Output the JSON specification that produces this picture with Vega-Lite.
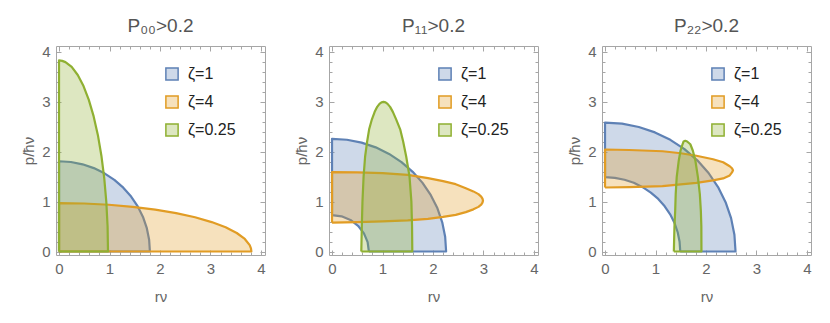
{
  "$schema": "https://vega.github.io/schema/vega-lite/v6.json",
  "padding": {"left": 21, "top": 16, "right": 5, "bottom": 5},
  "datasets": {
    "p1": [
      {"zeta": "ζ=1", "i": 0, "x": 0, "y": 0},
      {"zeta": "ζ=1", "i": 1, "x": 1.8, "y": 0},
      {"zeta": "ζ=1", "i": 2, "x": 1.785, "y": 0.236},
      {"zeta": "ζ=1", "i": 3, "x": 1.739, "y": 0.468},
      {"zeta": "ζ=1", "i": 4, "x": 1.663, "y": 0.693},
      {"zeta": "ζ=1", "i": 5, "x": 1.559, "y": 0.905},
      {"zeta": "ζ=1", "i": 6, "x": 1.428, "y": 1.102},
      {"zeta": "ζ=1", "i": 7, "x": 1.273, "y": 1.28},
      {"zeta": "ζ=1", "i": 8, "x": 1.096, "y": 1.436},
      {"zeta": "ζ=1", "i": 9, "x": 0.9, "y": 1.568},
      {"zeta": "ζ=1", "i": 10, "x": 0.689, "y": 1.672},
      {"zeta": "ζ=1", "i": 11, "x": 0.466, "y": 1.748},
      {"zeta": "ζ=1", "i": 12, "x": 0.235, "y": 1.795},
      {"zeta": "ζ=1", "i": 13, "x": 0, "y": 1.81},
      {"zeta": "ζ=1", "i": 14, "x": 0, "y": 0},
      {"zeta": "ζ=4", "i": 0, "x": 0, "y": 0},
      {"zeta": "ζ=4", "i": 1, "x": 3.81, "y": 0},
      {"zeta": "ζ=4", "i": 2, "x": 3.802, "y": 0.063},
      {"zeta": "ζ=4", "i": 3, "x": 3.777, "y": 0.127},
      {"zeta": "ζ=4", "i": 4, "x": 3.68, "y": 0.251},
      {"zeta": "ζ=4", "i": 5, "x": 3.52, "y": 0.371},
      {"zeta": "ζ=4", "i": 6, "x": 3.3, "y": 0.485},
      {"zeta": "ζ=4", "i": 7, "x": 3.023, "y": 0.59},
      {"zeta": "ζ=4", "i": 8, "x": 2.694, "y": 0.686},
      {"zeta": "ζ=4", "i": 9, "x": 2.319, "y": 0.77},
      {"zeta": "ζ=4", "i": 10, "x": 1.905, "y": 0.84},
      {"zeta": "ζ=4", "i": 11, "x": 1.458, "y": 0.896},
      {"zeta": "ζ=4", "i": 12, "x": 0.986, "y": 0.937},
      {"zeta": "ζ=4", "i": 13, "x": 0.497, "y": 0.962},
      {"zeta": "ζ=4", "i": 14, "x": 0, "y": 0.97},
      {"zeta": "ζ=4", "i": 15, "x": 0, "y": 0},
      {"zeta": "ζ=0.25", "i": 0, "x": 0, "y": 0},
      {"zeta": "ζ=0.25", "i": 1, "x": 0.97, "y": 0},
      {"zeta": "ζ=0.25", "i": 2, "x": 0.962, "y": 0.5},
      {"zeta": "ζ=0.25", "i": 3, "x": 0.937, "y": 0.991},
      {"zeta": "ζ=0.25", "i": 4, "x": 0.896, "y": 1.466},
      {"zeta": "ζ=0.25", "i": 5, "x": 0.84, "y": 1.915},
      {"zeta": "ζ=0.25", "i": 6, "x": 0.77, "y": 2.332},
      {"zeta": "ζ=0.25", "i": 7, "x": 0.686, "y": 2.708},
      {"zeta": "ζ=0.25", "i": 8, "x": 0.59, "y": 3.039},
      {"zeta": "ζ=0.25", "i": 9, "x": 0.485, "y": 3.317},
      {"zeta": "ζ=0.25", "i": 10, "x": 0.371, "y": 3.538},
      {"zeta": "ζ=0.25", "i": 11, "x": 0.251, "y": 3.7},
      {"zeta": "ζ=0.25", "i": 12, "x": 0.127, "y": 3.797},
      {"zeta": "ζ=0.25", "i": 13, "x": 0.063, "y": 3.822},
      {"zeta": "ζ=0.25", "i": 14, "x": 0, "y": 3.83},
      {"zeta": "ζ=0.25", "i": 15, "x": 0, "y": 0}
    ],
    "p2": [
      {"zeta": "ζ=1", "i": 0, "x": 0.73, "y": 0},
      {"zeta": "ζ=1", "i": 1, "x": 2.26, "y": 0},
      {"zeta": "ζ=1", "i": 2, "x": 2.241, "y": 0.295},
      {"zeta": "ζ=1", "i": 3, "x": 2.183, "y": 0.585},
      {"zeta": "ζ=1", "i": 4, "x": 2.088, "y": 0.865},
      {"zeta": "ζ=1", "i": 5, "x": 1.957, "y": 1.13},
      {"zeta": "ζ=1", "i": 6, "x": 1.793, "y": 1.376},
      {"zeta": "ζ=1", "i": 7, "x": 1.598, "y": 1.598},
      {"zeta": "ζ=1", "i": 8, "x": 1.376, "y": 1.793},
      {"zeta": "ζ=1", "i": 9, "x": 1.13, "y": 1.957},
      {"zeta": "ζ=1", "i": 10, "x": 0.865, "y": 2.088},
      {"zeta": "ζ=1", "i": 11, "x": 0.585, "y": 2.183},
      {"zeta": "ζ=1", "i": 12, "x": 0.295, "y": 2.241},
      {"zeta": "ζ=1", "i": 13, "x": 0, "y": 2.26},
      {"zeta": "ζ=1", "i": 14, "x": 0, "y": 0.73},
      {"zeta": "ζ=1", "i": 15, "x": 0.189, "y": 0.705},
      {"zeta": "ζ=1", "i": 16, "x": 0.365, "y": 0.632},
      {"zeta": "ζ=1", "i": 17, "x": 0.516, "y": 0.516},
      {"zeta": "ζ=1", "i": 18, "x": 0.632, "y": 0.365},
      {"zeta": "ζ=1", "i": 19, "x": 0.705, "y": 0.189},
      {"zeta": "ζ=1", "i": 20, "x": 0.73, "y": 0},
      {"zeta": "ζ=4", "i": 0, "x": 0, "y": 0.58},
      {"zeta": "ζ=4", "i": 1, "x": 0, "y": 1.59},
      {"zeta": "ζ=4", "i": 2, "x": 0.5, "y": 1.585},
      {"zeta": "ζ=4", "i": 3, "x": 1.0, "y": 1.572},
      {"zeta": "ζ=4", "i": 4, "x": 1.5, "y": 1.535},
      {"zeta": "ζ=4", "i": 5, "x": 1.9, "y": 1.47},
      {"zeta": "ζ=4", "i": 6, "x": 2.2, "y": 1.41},
      {"zeta": "ζ=4", "i": 7, "x": 2.45, "y": 1.35},
      {"zeta": "ζ=4", "i": 8, "x": 2.65, "y": 1.27},
      {"zeta": "ζ=4", "i": 9, "x": 2.8, "y": 1.205},
      {"zeta": "ζ=4", "i": 10, "x": 2.9, "y": 1.15},
      {"zeta": "ζ=4", "i": 11, "x": 2.955, "y": 1.1},
      {"zeta": "ζ=4", "i": 12, "x": 2.98, "y": 1.06},
      {"zeta": "ζ=4", "i": 13, "x": 2.99, "y": 1.02},
      {"zeta": "ζ=4", "i": 14, "x": 2.98, "y": 0.98},
      {"zeta": "ζ=4", "i": 15, "x": 2.955, "y": 0.94},
      {"zeta": "ζ=4", "i": 16, "x": 2.9, "y": 0.895},
      {"zeta": "ζ=4", "i": 17, "x": 2.8, "y": 0.845},
      {"zeta": "ζ=4", "i": 18, "x": 2.65, "y": 0.79},
      {"zeta": "ζ=4", "i": 19, "x": 2.45, "y": 0.735},
      {"zeta": "ζ=4", "i": 20, "x": 2.2, "y": 0.695},
      {"zeta": "ζ=4", "i": 21, "x": 1.9, "y": 0.655},
      {"zeta": "ζ=4", "i": 22, "x": 1.5, "y": 0.625},
      {"zeta": "ζ=4", "i": 23, "x": 1.0, "y": 0.603},
      {"zeta": "ζ=4", "i": 24, "x": 0.5, "y": 0.59},
      {"zeta": "ζ=4", "i": 25, "x": 0, "y": 0.58},
      {"zeta": "ζ=0.25", "i": 0, "x": 0.58, "y": 0},
      {"zeta": "ζ=0.25", "i": 1, "x": 1.59, "y": 0},
      {"zeta": "ζ=0.25", "i": 2, "x": 1.585, "y": 0.5},
      {"zeta": "ζ=0.25", "i": 3, "x": 1.572, "y": 1.0},
      {"zeta": "ζ=0.25", "i": 4, "x": 1.535, "y": 1.5},
      {"zeta": "ζ=0.25", "i": 5, "x": 1.47, "y": 1.9},
      {"zeta": "ζ=0.25", "i": 6, "x": 1.41, "y": 2.2},
      {"zeta": "ζ=0.25", "i": 7, "x": 1.35, "y": 2.45},
      {"zeta": "ζ=0.25", "i": 8, "x": 1.27, "y": 2.65},
      {"zeta": "ζ=0.25", "i": 9, "x": 1.205, "y": 2.8},
      {"zeta": "ζ=0.25", "i": 10, "x": 1.15, "y": 2.9},
      {"zeta": "ζ=0.25", "i": 11, "x": 1.1, "y": 2.96},
      {"zeta": "ζ=0.25", "i": 12, "x": 1.06, "y": 2.99},
      {"zeta": "ζ=0.25", "i": 13, "x": 1.02, "y": 3.0},
      {"zeta": "ζ=0.25", "i": 14, "x": 0.98, "y": 2.99},
      {"zeta": "ζ=0.25", "i": 15, "x": 0.94, "y": 2.96},
      {"zeta": "ζ=0.25", "i": 16, "x": 0.895, "y": 2.9},
      {"zeta": "ζ=0.25", "i": 17, "x": 0.845, "y": 2.8},
      {"zeta": "ζ=0.25", "i": 18, "x": 0.79, "y": 2.65},
      {"zeta": "ζ=0.25", "i": 19, "x": 0.735, "y": 2.45},
      {"zeta": "ζ=0.25", "i": 20, "x": 0.695, "y": 2.2},
      {"zeta": "ζ=0.25", "i": 21, "x": 0.655, "y": 1.9},
      {"zeta": "ζ=0.25", "i": 22, "x": 0.625, "y": 1.5},
      {"zeta": "ζ=0.25", "i": 23, "x": 0.603, "y": 1.0},
      {"zeta": "ζ=0.25", "i": 24, "x": 0.59, "y": 0.5},
      {"zeta": "ζ=0.25", "i": 25, "x": 0.58, "y": 0}
    ],
    "p3": [
      {"zeta": "ζ=1", "i": 0, "x": 1.49, "y": 0},
      {"zeta": "ζ=1", "i": 1, "x": 2.585, "y": 0},
      {"zeta": "ζ=1", "i": 2, "x": 2.563, "y": 0.337},
      {"zeta": "ζ=1", "i": 3, "x": 2.497, "y": 0.669},
      {"zeta": "ζ=1", "i": 4, "x": 2.388, "y": 0.989},
      {"zeta": "ζ=1", "i": 5, "x": 2.239, "y": 1.293},
      {"zeta": "ζ=1", "i": 6, "x": 2.051, "y": 1.574},
      {"zeta": "ζ=1", "i": 7, "x": 1.828, "y": 1.828},
      {"zeta": "ζ=1", "i": 8, "x": 1.574, "y": 2.051},
      {"zeta": "ζ=1", "i": 9, "x": 1.293, "y": 2.239},
      {"zeta": "ζ=1", "i": 10, "x": 0.989, "y": 2.388},
      {"zeta": "ζ=1", "i": 11, "x": 0.669, "y": 2.497},
      {"zeta": "ζ=1", "i": 12, "x": 0.337, "y": 2.563},
      {"zeta": "ζ=1", "i": 13, "x": 0, "y": 2.585},
      {"zeta": "ζ=1", "i": 14, "x": 0, "y": 1.49},
      {"zeta": "ζ=1", "i": 15, "x": 0.194, "y": 1.477},
      {"zeta": "ζ=1", "i": 16, "x": 0.386, "y": 1.439},
      {"zeta": "ζ=1", "i": 17, "x": 0.57, "y": 1.377},
      {"zeta": "ζ=1", "i": 18, "x": 0.745, "y": 1.29},
      {"zeta": "ζ=1", "i": 19, "x": 0.907, "y": 1.182},
      {"zeta": "ζ=1", "i": 20, "x": 1.054, "y": 1.054},
      {"zeta": "ζ=1", "i": 21, "x": 1.182, "y": 0.907},
      {"zeta": "ζ=1", "i": 22, "x": 1.29, "y": 0.745},
      {"zeta": "ζ=1", "i": 23, "x": 1.377, "y": 0.57},
      {"zeta": "ζ=1", "i": 24, "x": 1.439, "y": 0.386},
      {"zeta": "ζ=1", "i": 25, "x": 1.477, "y": 0.194},
      {"zeta": "ζ=1", "i": 26, "x": 1.49, "y": 0},
      {"zeta": "ζ=4", "i": 0, "x": 0, "y": 1.283},
      {"zeta": "ζ=4", "i": 1, "x": 0, "y": 2.045},
      {"zeta": "ζ=4", "i": 2, "x": 0.48, "y": 2.035},
      {"zeta": "ζ=4", "i": 3, "x": 1.14, "y": 2.01},
      {"zeta": "ζ=4", "i": 4, "x": 1.5, "y": 1.97},
      {"zeta": "ζ=4", "i": 5, "x": 1.81, "y": 1.92},
      {"zeta": "ζ=4", "i": 6, "x": 2.14, "y": 1.85},
      {"zeta": "ζ=4", "i": 7, "x": 2.34, "y": 1.79},
      {"zeta": "ζ=4", "i": 8, "x": 2.47, "y": 1.71},
      {"zeta": "ζ=4", "i": 9, "x": 2.515, "y": 1.67},
      {"zeta": "ζ=4", "i": 10, "x": 2.535, "y": 1.63},
      {"zeta": "ζ=4", "i": 11, "x": 2.515, "y": 1.585},
      {"zeta": "ζ=4", "i": 12, "x": 2.47, "y": 1.525},
      {"zeta": "ζ=4", "i": 13, "x": 2.34, "y": 1.465},
      {"zeta": "ζ=4", "i": 14, "x": 2.14, "y": 1.425},
      {"zeta": "ζ=4", "i": 15, "x": 1.81, "y": 1.375},
      {"zeta": "ζ=4", "i": 16, "x": 1.5, "y": 1.345},
      {"zeta": "ζ=4", "i": 17, "x": 1.14, "y": 1.31},
      {"zeta": "ζ=4", "i": 18, "x": 0.48, "y": 1.29},
      {"zeta": "ζ=4", "i": 19, "x": 0, "y": 1.283},
      {"zeta": "ζ=0.25", "i": 0, "x": 1.363, "y": 0},
      {"zeta": "ζ=0.25", "i": 1, "x": 1.91, "y": 0},
      {"zeta": "ζ=0.25", "i": 2, "x": 1.908, "y": 0.5},
      {"zeta": "ζ=0.25", "i": 3, "x": 1.898, "y": 0.82},
      {"zeta": "ζ=0.25", "i": 4, "x": 1.878, "y": 1.15},
      {"zeta": "ζ=0.25", "i": 5, "x": 1.84, "y": 1.49},
      {"zeta": "ζ=0.25", "i": 6, "x": 1.79, "y": 1.82},
      {"zeta": "ζ=0.25", "i": 7, "x": 1.74, "y": 2.02},
      {"zeta": "ζ=0.25", "i": 8, "x": 1.69, "y": 2.15},
      {"zeta": "ζ=0.25", "i": 9, "x": 1.627, "y": 2.205},
      {"zeta": "ζ=0.25", "i": 10, "x": 1.59, "y": 2.22},
      {"zeta": "ζ=0.25", "i": 11, "x": 1.555, "y": 2.205},
      {"zeta": "ζ=0.25", "i": 12, "x": 1.535, "y": 2.15},
      {"zeta": "ζ=0.25", "i": 13, "x": 1.495, "y": 2.02},
      {"zeta": "ζ=0.25", "i": 14, "x": 1.46, "y": 1.82},
      {"zeta": "ζ=0.25", "i": 15, "x": 1.42, "y": 1.49},
      {"zeta": "ζ=0.25", "i": 16, "x": 1.4, "y": 1.15},
      {"zeta": "ζ=0.25", "i": 17, "x": 1.39, "y": 0.82},
      {"zeta": "ζ=0.25", "i": 18, "x": 1.375, "y": 0.49},
      {"zeta": "ζ=0.25", "i": 19, "x": 1.363, "y": 0}
    ]
  },
  "config": {
    "view": {"stroke": null},
    "font": "Liberation Sans",
    "concat": {"spacing": 64},
    "title": {"fontSize": 19, "fontWeight": "normal", "color": "#555555", "font": "Liberation Sans", "offset": 9},
    "axis": {"grid": false, "domainColor": "#a6a6a6", "tickColor": "#a6a6a6", "labelColor": "#666666", "titleColor": "#666666", "labelFontSize": 15, "titleFontSize": 15, "titleFontWeight": "normal", "labelFont": "Liberation Sans", "titleFont": "Liberation Sans", "labelOverlap": false, "labelFlush": false},
    "legend": {"orient": "none", "legendX": 108, "legendY": 20, "symbolType": "square", "symbolSize": 150, "symbolStrokeWidth": 1.5, "labelFontSize": 16, "labelColor": "#222222", "labelFont": "Liberation Sans", "rowPadding": 8, "padding": 0, "labelOffset": 8}
  },
  "bounds": "flush",
  "hconcat": [
    {
      "width": 209, "height": 209,
      "title": "P₀₀>0.2",
      "data": {"name": "p1"},
      "layer": [
        {
          "mark": {"type": "line", "strokeWidth": 2.2, "fillOpacity": 0.3, "strokeJoin": "round"},
          "encoding": {
            "x": {"field": "x", "type": "quantitative", "scale": {"domain": [-0.06, 4.08], "nice": false, "zero": false},
                  "axis": {"orient": "bottom", "values": [0,0.2,0.4,0.6,0.8,1,1.2,1.4,1.6,1.8,2,2.2,2.4,2.6,2.8,3,3.2,3.4,3.6,3.8,4], "labelExpr": "datum.value % 1 === 0 ? format(datum.value, 'd') : ''", "tickSize": {"condition": {"test": "datum.value % 1 === 0", "value": -5}, "value": -3}, "title": "rν", "labelPadding": 11, "titlePadding": 11}},
            "y": {"field": "y", "type": "quantitative", "scale": {"domain": [-0.07, 4.12], "nice": false, "zero": false},
                  "axis": {"orient": "left", "values": [0,0.2,0.4,0.6,0.8,1,1.2,1.4,1.6,1.8,2,2.2,2.4,2.6,2.8,3,3.2,3.4,3.6,3.8,4], "labelExpr": "datum.value % 1 === 0 ? format(datum.value, 'd') : ''", "tickSize": {"condition": {"test": "datum.value % 1 === 0", "value": -5}, "value": -3}, "title": "p/ħν", "labelPadding": 11, "titlePadding": 5}},
            "order": {"field": "i", "type": "quantitative"},
            "fill": {"field": "zeta", "type": "nominal", "scale": {"domain": ["ζ=1", "ζ=4", "ζ=0.25"], "range": ["#5E81B5", "#E19C24", "#8FB032"]}, "legend": {"title": null, "encode": {"symbols": {"update": {"fillOpacity": {"value": 0.3}}}}}},
            "stroke": {"field": "zeta", "type": "nominal", "scale": {"domain": ["ζ=1", "ζ=4", "ζ=0.25"], "range": ["#5E81B5", "#E19C24", "#8FB032"]}, "legend": {"title": null, "encode": {"symbols": {"update": {"fillOpacity": {"value": 0.3}}}}}}
          }
        },
        {
          "mark": {"type": "point", "opacity": 0},
          "encoding": {
            "x": {"field": "x", "type": "quantitative", "axis": {"orient": "top", "values": [0,0.2,0.4,0.6,0.8,1,1.2,1.4,1.6,1.8,2,2.2,2.4,2.6,2.8,3,3.2,3.4,3.6,3.8,4], "labels": false, "title": null, "tickSize": {"condition": {"test": "datum.value % 1 === 0", "value": -5}, "value": -3}}},
            "y": {"field": "y", "type": "quantitative", "axis": {"orient": "right", "values": [0,0.2,0.4,0.6,0.8,1,1.2,1.4,1.6,1.8,2,2.2,2.4,2.6,2.8,3,3.2,3.4,3.6,3.8,4], "labels": false, "title": null, "tickSize": {"condition": {"test": "datum.value % 1 === 0", "value": -5}, "value": -3}}}
          }
        }
      ],
      "resolve": {"axis": {"x": "independent", "y": "independent"}}
    },
    {
      "width": 209, "height": 209,
      "title": "P₁₁>0.2",
      "data": {"name": "p2"},
      "layer": [
        {
          "mark": {"type": "line", "strokeWidth": 2.2, "fillOpacity": 0.3, "strokeJoin": "round"},
          "encoding": {
            "x": {"field": "x", "type": "quantitative", "scale": {"domain": [-0.06, 4.08], "nice": false, "zero": false},
                  "axis": {"orient": "bottom", "values": [0,0.2,0.4,0.6,0.8,1,1.2,1.4,1.6,1.8,2,2.2,2.4,2.6,2.8,3,3.2,3.4,3.6,3.8,4], "labelExpr": "datum.value % 1 === 0 ? format(datum.value, 'd') : ''", "tickSize": {"condition": {"test": "datum.value % 1 === 0", "value": -5}, "value": -3}, "title": "rν", "labelPadding": 11, "titlePadding": 11}},
            "y": {"field": "y", "type": "quantitative", "scale": {"domain": [-0.07, 4.12], "nice": false, "zero": false},
                  "axis": {"orient": "left", "values": [0,0.2,0.4,0.6,0.8,1,1.2,1.4,1.6,1.8,2,2.2,2.4,2.6,2.8,3,3.2,3.4,3.6,3.8,4], "labelExpr": "datum.value % 1 === 0 ? format(datum.value, 'd') : ''", "tickSize": {"condition": {"test": "datum.value % 1 === 0", "value": -5}, "value": -3}, "title": "p/ħν", "labelPadding": 11, "titlePadding": 5}},
            "order": {"field": "i", "type": "quantitative"},
            "fill": {"field": "zeta", "type": "nominal", "scale": {"domain": ["ζ=1", "ζ=4", "ζ=0.25"], "range": ["#5E81B5", "#E19C24", "#8FB032"]}, "legend": {"title": null, "encode": {"symbols": {"update": {"fillOpacity": {"value": 0.3}}}}}},
            "stroke": {"field": "zeta", "type": "nominal", "scale": {"domain": ["ζ=1", "ζ=4", "ζ=0.25"], "range": ["#5E81B5", "#E19C24", "#8FB032"]}, "legend": {"title": null, "encode": {"symbols": {"update": {"fillOpacity": {"value": 0.3}}}}}}
          }
        },
        {
          "mark": {"type": "point", "opacity": 0},
          "encoding": {
            "x": {"field": "x", "type": "quantitative", "axis": {"orient": "top", "values": [0,0.2,0.4,0.6,0.8,1,1.2,1.4,1.6,1.8,2,2.2,2.4,2.6,2.8,3,3.2,3.4,3.6,3.8,4], "labels": false, "title": null, "tickSize": {"condition": {"test": "datum.value % 1 === 0", "value": -5}, "value": -3}}},
            "y": {"field": "y", "type": "quantitative", "axis": {"orient": "right", "values": [0,0.2,0.4,0.6,0.8,1,1.2,1.4,1.6,1.8,2,2.2,2.4,2.6,2.8,3,3.2,3.4,3.6,3.8,4], "labels": false, "title": null, "tickSize": {"condition": {"test": "datum.value % 1 === 0", "value": -5}, "value": -3}}}
          }
        }
      ],
      "resolve": {"axis": {"x": "independent", "y": "independent"}}
    },
    {
      "width": 209, "height": 209,
      "title": "P₂₂>0.2",
      "data": {"name": "p3"},
      "layer": [
        {
          "mark": {"type": "line", "strokeWidth": 2.2, "fillOpacity": 0.3, "strokeJoin": "round"},
          "encoding": {
            "x": {"field": "x", "type": "quantitative", "scale": {"domain": [-0.06, 4.08], "nice": false, "zero": false},
                  "axis": {"orient": "bottom", "values": [0,0.2,0.4,0.6,0.8,1,1.2,1.4,1.6,1.8,2,2.2,2.4,2.6,2.8,3,3.2,3.4,3.6,3.8,4], "labelExpr": "datum.value % 1 === 0 ? format(datum.value, 'd') : ''", "tickSize": {"condition": {"test": "datum.value % 1 === 0", "value": -5}, "value": -3}, "title": "rν", "labelPadding": 11, "titlePadding": 11}},
            "y": {"field": "y", "type": "quantitative", "scale": {"domain": [-0.07, 4.12], "nice": false, "zero": false},
                  "axis": {"orient": "left", "values": [0,0.2,0.4,0.6,0.8,1,1.2,1.4,1.6,1.8,2,2.2,2.4,2.6,2.8,3,3.2,3.4,3.6,3.8,4], "labelExpr": "datum.value % 1 === 0 ? format(datum.value, 'd') : ''", "tickSize": {"condition": {"test": "datum.value % 1 === 0", "value": -5}, "value": -3}, "title": "p/ħν", "labelPadding": 11, "titlePadding": 5}},
            "order": {"field": "i", "type": "quantitative"},
            "fill": {"field": "zeta", "type": "nominal", "scale": {"domain": ["ζ=1", "ζ=4", "ζ=0.25"], "range": ["#5E81B5", "#E19C24", "#8FB032"]}, "legend": {"title": null, "encode": {"symbols": {"update": {"fillOpacity": {"value": 0.3}}}}}},
            "stroke": {"field": "zeta", "type": "nominal", "scale": {"domain": ["ζ=1", "ζ=4", "ζ=0.25"], "range": ["#5E81B5", "#E19C24", "#8FB032"]}, "legend": {"title": null, "encode": {"symbols": {"update": {"fillOpacity": {"value": 0.3}}}}}}
          }
        },
        {
          "mark": {"type": "point", "opacity": 0},
          "encoding": {
            "x": {"field": "x", "type": "quantitative", "axis": {"orient": "top", "values": [0,0.2,0.4,0.6,0.8,1,1.2,1.4,1.6,1.8,2,2.2,2.4,2.6,2.8,3,3.2,3.4,3.6,3.8,4], "labels": false, "title": null, "tickSize": {"condition": {"test": "datum.value % 1 === 0", "value": -5}, "value": -3}}},
            "y": {"field": "y", "type": "quantitative", "axis": {"orient": "right", "values": [0,0.2,0.4,0.6,0.8,1,1.2,1.4,1.6,1.8,2,2.2,2.4,2.6,2.8,3,3.2,3.4,3.6,3.8,4], "labels": false, "title": null, "tickSize": {"condition": {"test": "datum.value % 1 === 0", "value": -5}, "value": -3}}}
          }
        }
      ],
      "resolve": {"axis": {"x": "independent", "y": "independent"}}
    }
  ],
  "resolve": {"scale": {"fill": "independent", "stroke": "independent"}, "legend": {"fill": "independent", "stroke": "independent"}}
}
